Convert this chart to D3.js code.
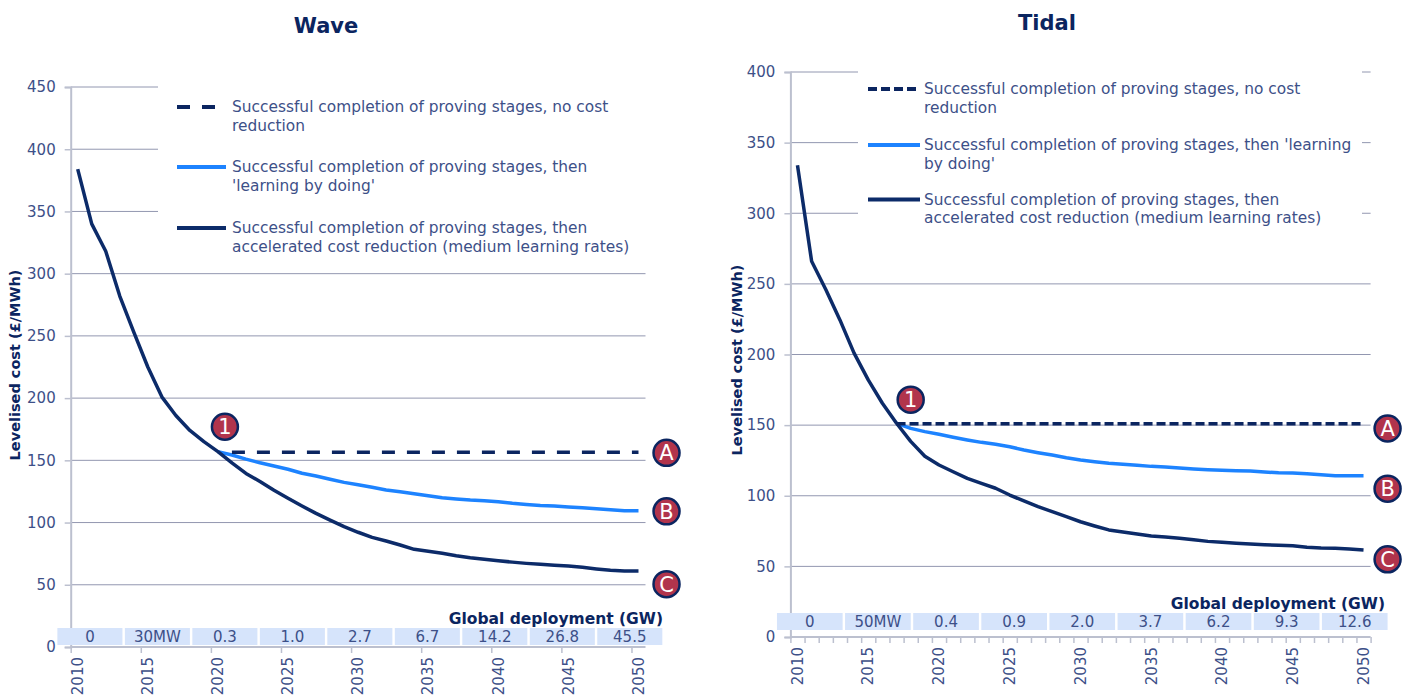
<!DOCTYPE html>
<html><head><meta charset="utf-8">
<script src="https://cdn.jsdelivr.net/npm/d3@7"></script>
<style>
body{margin:0;background:#fff}
svg{display:block}
text{font-family:"DejaVu Sans",Verdana,sans-serif}
</style></head>
<body><svg id="chart" width="1415" height="698"></svg>
<script>
// ---------- DATA ----------
const years = [2010,2011,2012,2013,2014,2015,2016,2017,2018,2019,2020,2021,2022,2023,2024,2025,2026,2027,2028,2029,2030,
               2031,2032,2033,2034,2035,2036,2037,2038,2039,2040,2041,2042,2043,2044,2045,2046,2047,2048,2049,2050];
const xTickLabels = ["2010","2015","2020","2025","2030","2035","2040","2045","2050"];
const waveYTicks = [0,50,100,150,200,250,300,350,400,450];
const tidalYTicks = [0,50,100,150,200,250,300,350,400];

// Wave (£/MWh)
const waveNoReduction = [null,null,null,null,null,null,null,null,null,null,null,
  156.5,156.5,156.5,156.5,156.5,156.5,156.5,156.5,156.5,156.5,156.5,156.5,156.5,156.5,156.5,
  156.5,156.5,156.5,156.5,156.5,156.5,156.5,156.5,156.5,156.5,156.5,156.5,156.5,156.5,156.5];
const waveLearning = [null,null,null,null,null,null,null,null,null,null,157,
  154.3,151,148,145.4,142.8,139.6,137.4,134.8,132.3,130.4,128.3,126.2,124.8,123.2,121.6,
  120,119,118.1,117.6,116.8,115.5,114.6,113.8,113.3,112.5,111.9,111.1,110.3,109.5,109.5];
const waveAccelerated = [384,340,318,282,253,225,201,186,174,165,157,
  148,139.5,133,126,119.5,113.3,107.4,102,96.7,92.2,88.1,85.2,82,78.5,77,
  75.3,73.4,71.8,70.5,69.4,68.2,67.2,66.4,65.6,65,64,62.7,61.6,61,61];

// Tidal (£/MWh)
const tidalNoReduction = [null,null,null,null,null,null,null,
  151,151,151,151,151,151,151,151,151,151,151,151,151,151,151,151,151,
  151,151,151,151,151,151,151,151,151,151,151,151,151,151,151,151,151];
const tidalLearning = [null,null,null,null,null,null,null,
  151.3,147.7,145.4,143.5,141.4,139.5,137.8,136.4,134.7,132.4,130.5,128.8,126.9,125.3,124.1,123,
  122.3,121.6,120.8,120.4,119.6,118.9,118.4,118,117.7,117.5,116.8,116.3,116.1,115.6,114.9,114.2,114.2,114.2];
const tidalAccelerated = [334,266,246,224.5,201,182,165.5,151.3,138.5,128,121.8,
  117,112.3,108.8,105.3,100.5,96.3,92.3,88.7,85.2,81.6,78.6,75.8,74.3,72.9,71.5,
  70.8,69.9,68.9,67.7,67,66.3,65.8,65.3,64.9,64.6,63.5,63,62.8,62.3,61.6];

// Global deployment (GW) table
const waveDeployment = ["0","30MW","0.3","1.0","2.7","6.7","14.2","26.8","45.5"];
const tidalDeployment = ["0","50MW","0.4","0.9","2.0","3.7","6.2","9.3","12.6"];

// Annotation markers (year, value)
const waveMarkerLabels = ["1","A","B","C"];
const waveMarkerYears = [2020.5,2052,2052,2052];
const waveMarkerValues = [177,156,109,50.5];
const tidalMarkerLabels = ["1","A","B","C"];
const tidalMarkerYears = [2018,2051.7,2051.7,2051.7];
const tidalMarkerValues = [168,147.6,105,55];

const waveLegend = [
  ["Successful completion of proving stages, no cost","reduction"],
  ["Successful completion of proving stages, then","'learning by doing'"],
  ["Successful completion of proving stages, then","accelerated cost reduction (medium learning rates)"]];
const tidalLegend = [
  ["Successful completion of proving stages, no cost","reduction"],
  ["Successful completion of proving stages, then 'learning","by doing'"],
  ["Successful completion of proving stages, then","accelerated cost reduction (medium learning rates)"]];

// ---------- STYLE / LAYOUT ----------
const NAVY = "#0b2560", DARK = "#0c2b69", BLUE = "#1d83ff", TXT = "#3d5088",
      GRID = "#9297b0", AXIS = "#bcc0cf", BAND = "#d6e4fb", MARK = "#b1344c";

const panels = [
  {title:"Wave", yTicks:waveYTicks, yMax:450,
   series:[waveNoReduction, waveLearning, waveAccelerated], deploy:waveDeployment,
   markers:{labels:waveMarkerLabels, years:waveMarkerYears, values:waveMarkerValues}, legend:waveLegend,
   L:{x0:70.7,x1:645.5,yTop:87,yBottom:647,titleX:326,titleY:33,yLabX:20,yLabY:365,
      box:[158,78,650,262], sample:[177,226], textX:232, rows:[107,167,228],
      bandTop:628,bandBottom:645,gdX:663,gdY:624,dash:"13,12",minorTicks:false}},
  {title:"Tidal", yTicks:tidalYTicks, yMax:400,
   series:[tidalNoReduction, tidalLearning, tidalAccelerated], deploy:tidalDeployment,
   markers:{labels:tidalMarkerLabels, years:tidalMarkerYears, values:tidalMarkerValues}, legend:tidalLegend,
   L:{x0:790.4,x1:1370.6,yTop:72,yBottom:637,titleX:1047,titleY:30,yLabX:742,yLabY:360,
      box:[858,62,1362,240], sample:[868,920], textX:924, rows:[89,145,199.5],
      bandTop:613,bandBottom:630,gdX:1385,gdY:609,dash:"9,4",minorTicks:true}}
];

const svg = d3.select("#chart");

panels.forEach(p => {
  const L = p.L;
  const g = svg.append("g");
  const x = d3.scaleLinear().domain([2009.5, 2050.5]).range([L.x0, L.x1]);
  const y = d3.scaleLinear().domain([0, p.yMax]).range([L.yBottom, L.yTop]);

  // gridlines
  g.append("g").selectAll("line").data(p.yTicks.filter(v => v > 0)).join("line")
    .attr("x1", L.x0).attr("x2", L.x1).attr("y1", d => y(d)).attr("y2", d => y(d))
    .attr("stroke", GRID).attr("stroke-width", 1);

  // legend background
  g.append("rect").attr("x", L.box[0]).attr("y", L.box[1])
    .attr("width", L.box[2]-L.box[0]).attr("height", L.box[3]-L.box[1]).attr("fill", "#fff");

  // y axis
  const yAxis = d3.axisLeft(y).tickValues(p.yTicks).tickSize(6).tickPadding(9).tickFormat(d3.format("d"));
  const ya = g.append("g").attr("transform", `translate(${L.x0},0)`).call(yAxis);
  ya.select(".domain").attr("stroke", AXIS).attr("stroke-width", 2);
  ya.selectAll(".tick line").attr("stroke", AXIS).attr("stroke-width", 1.5);
  ya.selectAll(".tick text").attr("fill", TXT).style("font-size", "15px").attr("font-family", null);

  // x axis: ticks at category boundaries, labels at category centres
  const boundaries = L.minorTicks ? d3.range(2009.5, 2051, 1) : [2009.5,2014.5,2019.5,2024.5,2029.5,2034.5,2039.5,2044.5,2049.5];
  const xAxis = d3.axisBottom(x).tickValues(boundaries).tickSize(6).tickFormat("");
  const xa = g.append("g").attr("transform", `translate(0,${L.yBottom})`).call(xAxis);
  xa.select(".domain").attr("stroke", AXIS).attr("stroke-width", 2).attr("d", `M${L.x0},0H${L.x1}`);
  xa.selectAll(".tick line").attr("stroke", AXIS).attr("stroke-width", 1.5);
  g.append("g").selectAll("text").data(xTickLabels).join("text")
    .attr("transform", d => `translate(${x(+d)},${L.yBottom+10}) rotate(-90)`)
    .attr("text-anchor", "end").attr("dy", "0.35em")
    .attr("fill", TXT).style("font-size", "15px").text(d => d);

  // deployment band
  const band = d3.scaleBand().domain(d3.range(p.deploy.length))
    .range([x(2008.55), x(2051.7)]).paddingInner(0.036);
  const bg = g.append("g");
  bg.selectAll("rect").data(p.deploy).join("rect")
    .attr("x", (d,i) => band(i)).attr("width", band.bandwidth())
    .attr("y", L.bandTop).attr("height", L.bandBottom - L.bandTop).attr("fill", BAND);
  bg.selectAll("text").data(p.deploy).join("text")
    .attr("x", (d,i) => band(i) + band.bandwidth()/2).attr("y", (L.bandTop+L.bandBottom)/2)
    .attr("dy", "0.38em").attr("text-anchor", "middle")
    .attr("fill", TXT).style("font-size", "15px").text(d => d);
  g.append("text").attr("x", L.gdX).attr("y", L.gdY).attr("text-anchor", "end")
    .attr("fill", NAVY).style("font-size", "15.5px").style("font-weight", "bold")
    .text("Global deployment (GW)");

  // lines
  const line = d3.line().defined(d => d.v != null).x(d => x(d.yr)).y(d => y(d.v));
  const styles = [
    {stroke: NAVY, width: 3.5, dash: L.dash},
    {stroke: BLUE, width: 3.5, dash: null},
    {stroke: DARK, width: 3.5, dash: null}];
  [1,2,0].forEach(si => {
    const pts = years.map((yr, i) => ({yr, v: p.series[si][i]}));
    g.append("path").datum(pts).attr("d", line).attr("fill", "none")
      .attr("stroke", styles[si].stroke).attr("stroke-width", styles[si].width)
      .attr("stroke-dasharray", styles[si].dash).attr("stroke-linejoin", "round");
  });

  // markers
  const mk = g.append("g").selectAll("g").data(p.markers.labels).join("g")
    .attr("transform", (d,i) => `translate(${x(p.markers.years[i])},${y(p.markers.values[i])})`);
  mk.append("circle").attr("r", 13).attr("fill", MARK).attr("stroke", NAVY).attr("stroke-width", 2.5);
  mk.append("text").attr("text-anchor", "middle").attr("dy", "0.36em")
    .attr("fill", "#fff").style("font-size", "21px").text(d => d);

  // legend
  p.legend.forEach((lines, i) => {
    g.append("line").attr("x1", L.sample[0]).attr("x2", L.sample[1])
      .attr("y1", L.rows[i]).attr("y2", L.rows[i])
      .attr("stroke", styles[i].stroke).attr("stroke-width", 4)
      .attr("stroke-dasharray", styles[i].dash);
    lines.forEach((t, j) => {
      g.append("text").attr("x", L.textX).attr("y", L.rows[i] + j*18.5).attr("dy", "0.35em")
        .attr("fill", TXT).style("font-size", "15.4px").text(t);
    });
  });

  // title
  g.append("text").attr("x", L.titleX).attr("y", L.titleY).attr("text-anchor", "middle")
    .attr("fill", NAVY).style("font-size", "21px").style("font-weight", "bold").text(p.title);

  // y axis title
  g.append("text").attr("transform", `translate(${L.yLabX},${L.yLabY}) rotate(-90)`)
    .attr("text-anchor", "middle").attr("fill", NAVY)
    .style("font-size", "14.5px").style("font-weight", "bold").text("Levelised cost (£/MWh)");
});
</script>
</body></html>
